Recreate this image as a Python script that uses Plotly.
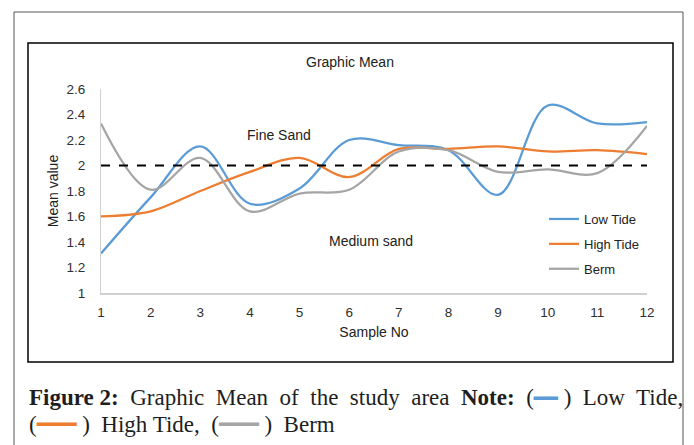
import plotly.graph_objects as go

samples = list(range(1, 13))
low_tide = [1.31, 1.75, 2.15, 1.70, 1.82, 2.20, 2.16, 2.12, 1.77, 2.47, 2.33, 2.34]
high_tide = [1.60, 1.64, 1.80, 1.95, 2.06, 1.91, 2.13, 2.13, 2.15, 2.11, 2.12, 2.09]
berm = [2.33, 1.81, 2.06, 1.64, 1.78, 1.81, 2.11, 2.12, 1.95, 1.97, 1.94, 2.31]
threshold = 2.0

W, H = 694, 445
L, R, T, B = 101, 647, 89, 293  # plot area pixel bounds

def px(x):
    return (x - L) / (R - L)

def py(y):
    return (B - y) / (B - T)

fig = go.Figure()
series = [("Low Tide", low_tide, "#5B9BD5"),
          ("High Tide", high_tide, "#ED7D31"),
          ("Berm", berm, "#A5A5A5")]
for name, vals, col in series:
    fig.add_trace(go.Scatter(x=samples, y=vals, name=name, mode="lines",
                             line=dict(color=col, width=2.25, shape="spline", smoothing=1.0),
                             legendgroup=name))

fig.add_trace(go.Scatter(x=[samples[0], samples[-1]], y=[threshold, threshold], mode="lines",
                         line=dict(color="black", width=2, dash="dash"), showlegend=False,
                         hoverinfo="skip"))

sans = "Liberation Sans, Arial"
tickfont = dict(family=sans, size=13.5, color="#303030")
tfont = dict(family=sans, size=14, color="#222222")
fig.update_layout(
    width=W, height=H,
    margin=dict(l=L, r=W - R, t=T, b=H - B),
    paper_bgcolor="white", plot_bgcolor="white",
    showlegend=True,
    legend=dict(x=px(544), y=py(204), xanchor="left", yanchor="top",
                font=dict(family=sans, size=13, color="#222222"),
                bgcolor="rgba(0,0,0,0)", tracegroupgap=5, itemwidth=30),
    xaxis=dict(range=[1, 12], tickmode="array", tickvals=samples, ticktext=[str(s) for s in samples],
               showgrid=False, zeroline=False, showline=True, linecolor="#D0D0D0", linewidth=1.5,
               ticks="", tickfont=tickfont, ticklabelstandoff=6,
               title=dict(text="Sample No", font=tfont, standoff=8)),
    yaxis=dict(range=[1, 2.6], tickmode="linear", tick0=1, dtick=0.2,
               showgrid=False, zeroline=False, showline=True, linecolor="#D0D0D0", linewidth=1,
               ticks="", tickfont=tickfont, ticklabelstandoff=12,
               title=dict(text="Mean value", font=tfont, standoff=4)),
)

# frames
fig.add_shape(type="rect", xref="paper", yref="paper",
              x0=px(14), x1=px(683), y0=py(460), y1=py(12),
              line=dict(color="#555555", width=1), layer="below")
fig.add_shape(type="rect", xref="paper", yref="paper",
              x0=px(28), x1=px(673), y0=py(362), y1=py(43),
              line=dict(color="black", width=1.5), layer="below")

afont = dict(family=sans, size=14, color="#222222")
for txt, ax, ay in [("Graphic Mean", 350, 62), ("Fine Sand", 279, 135), ("Medium sand", 371, 241)]:
    fig.add_annotation(text=txt, xref="paper", yref="paper", x=px(ax), y=py(ay),
                       xanchor="center", yanchor="middle", showarrow=False, font=afont)

cfont = dict(family="Liberation Serif, DejaVu Serif, serif", size=23, color="#1e1e1e")
cap1 = ("<b>Figure 2:</b>  Graphic  Mean  of  the  study  area  <b>Note:</b>  "
        "(<span style='color:#5B9BD5;font-size:20px'>━━</span> )  Low  Tide,")
cap2 = ("(<span style='color:#ED7D31;font-size:22px'>━━━</span> )  High Tide,  "
        "(<span style='color:#A5A5A5;font-size:22px'>━━━</span> )  Berm")
fig.add_annotation(text=cap1, xref="paper", yref="paper", x=px(27), y=py(397),
                   xanchor="left", yanchor="middle", showarrow=False, font=cfont)
fig.add_annotation(text=cap2, xref="paper", yref="paper", x=px(27), y=py(424),
                   xanchor="left", yanchor="middle", showarrow=False, font=cfont)

fig.write_html("out.html")
